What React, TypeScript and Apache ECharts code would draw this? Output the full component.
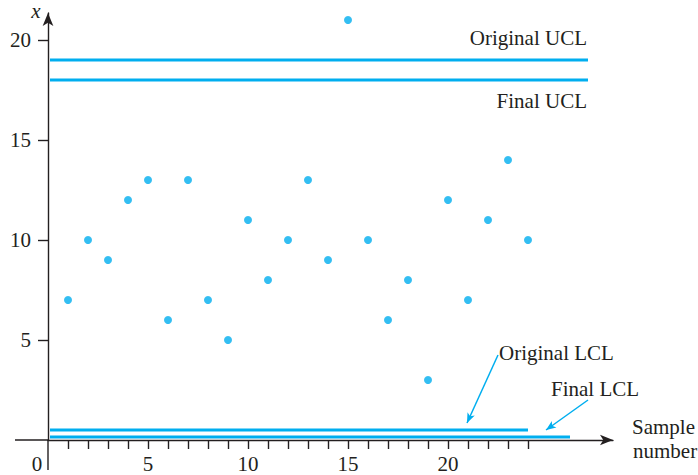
import React, { useEffect, useRef } from "react";
import * as echarts from "echarts";

const sampleNumbers = [1, 2, 3, 4, 5, 6, 7, 8, 9, 10, 11, 12, 13, 14, 15, 16, 17, 18, 19, 20, 21, 22, 23, 24];
const sampleMeans = [7, 10, 9, 12, 13, 6, 13, 7, 5, 11, 8, 10, 13, 9, 21, 10, 6, 8, 3, 12, 7, 11, 14, 10];

// control limits: value and the sample range the line spans
const originalUCL = { value: 19, from: 0.1, to: 27 };
const finalUCL = { value: 18, from: 0.1, to: 27 };
const originalLCL = { value: 0.5, from: 0.1, to: 24 };
const finalLCL = { value: 0.15, from: 0.1, to: 26.1 };

const xTickValues = sampleNumbers;
const xLabelValues = [0, 5, 10, 15, 20];
const yTickValues = [5, 10, 15, 20];

// annotation arrows (data coordinates)
const originalLCLArrow = [[22.5, 4.25], [20.95, 0.85]];
const finalLCLArrow = [[27, 2], [24.9, 0.5]];

const CYAN = "#00aeef";
const INK = "#231f20";
const FONT = '"Liberation Serif", "Times New Roman", serif';

function limitSeries(name: string, lim: { value: number; from: number; to: number }) {
  return {
    name,
    type: "line",
    data: [
      [lim.from, lim.value],
      [lim.to, lim.value],
    ],
    symbol: "none",
    lineStyle: { color: CYAN, width: 3 },
    silent: true,
    z: 3,
  };
}

export default function App() {
  const ref = useRef<HTMLDivElement>(null);
  useEffect(() => {
    if (!ref.current) return;
    const chart = echarts.init(ref.current, null, { renderer: "svg" });
    const axisLineStyle = { color: INK, width: 1.4 };
    const textStyle = (text: string, align: string, extra: any = {}) => ({
      text,
      font: `21px ${FONT}`,
      fill: INK,
      align,
      verticalAlign: "middle",
      ...extra,
    });
    chart.setOption({
      animation: false,
      backgroundColor: "#ffffff",
      grid: { left: 48, right: 85, top: 13, bottom: 35, containLabel: false, outerBoundsMode: "none" },
      xAxis: {
        type: "value",
        min: 0,
        max: 28.25,
        axisLine: {
          onZero: false,
          lineStyle: axisLineStyle,
          symbol: ["none", "arrow"],
          symbolSize: [8, 13],
        },
        axisTick: {
          customValues: xTickValues,
          length: 9,
          lineStyle: axisLineStyle,
        },
        axisLabel: {
          customValues: xLabelValues,
          margin: 13,
          fontSize: 21,
          fontFamily: FONT,
          color: INK,
          formatter: (v: number) => (v === 0 ? "{z|0}" : String(v)),
          rich: {
            z: { fontSize: 21, fontFamily: FONT, color: INK, padding: [0, 22, 0, 0] },
          },
        },
        splitLine: { show: false },
      },
      yAxis: {
        type: "value",
        min: 0,
        max: 21.35,
        axisLine: {
          onZero: false,
          lineStyle: axisLineStyle,
          symbol: ["none", "arrow"],
          symbolSize: [8, 13],
        },
        axisTick: {
          customValues: yTickValues,
          length: 10,
          lineStyle: axisLineStyle,
        },
        axisLabel: {
          customValues: yTickValues,
          margin: 17,
          fontSize: 21,
          fontFamily: FONT,
          color: INK,
        },
        splitLine: { show: false },
      },
      series: [
        limitSeries("Original UCL", originalUCL),
        limitSeries("Final UCL", finalUCL),
        limitSeries("Original LCL", originalLCL),
        limitSeries("Final LCL", finalLCL),
        {
          name: "Sample mean",
          type: "scatter",
          data: sampleNumbers.map((n, i) => [n, sampleMeans[i]]),
          symbol: "circle",
          symbolSize: 8,
          itemStyle: { color: CYAN },
          z: 4,
          markLine: {
            silent: true,
            symbol: ["none", "arrow"],
            symbolSize: [6, 10],
            label: { show: false },
            lineStyle: { color: CYAN, width: 1.5, type: "solid" },
            data: [
              [{ coord: originalLCLArrow[0] }, { coord: originalLCLArrow[1] }],
              [{ coord: finalLCLArrow[0] }, { coord: finalLCLArrow[1] }],
            ],
          },
        },
      ],
      graphic: [
        { type: "line", shape: { x1: 15, y1: 440, x2: 48, y2: 440 }, style: { stroke: INK, lineWidth: 1.4 } },
        { type: "line", shape: { x1: 48, y1: 440, x2: 48, y2: 470 }, style: { stroke: INK, lineWidth: 1.4 } },
        { type: "text", x: 36, y: 11, style: textStyle("x", "center", { font: `italic 21px ${FONT}` }) },
        { type: "text", x: 587, y: 38, style: textStyle("Original UCL", "right") },
        { type: "text", x: 587, y: 101, style: textStyle("Final UCL", "right") },
        { type: "text", x: 499, y: 353, style: textStyle("Original LCL", "left") },
        { type: "text", x: 551, y: 389, style: textStyle("Final LCL", "left") },
        { type: "text", x: 632, y: 427, style: textStyle("Sample", "left") },
        { type: "text", x: 633, y: 451, style: textStyle("number", "left") },
      ],
    });
    return () => chart.dispose();
  }, []);
  return (
    <div
      ref={ref}
      style={{ position: "fixed", left: 0, top: 0, width: 698, height: 475, background: "#fff" }}
    />
  );
}
